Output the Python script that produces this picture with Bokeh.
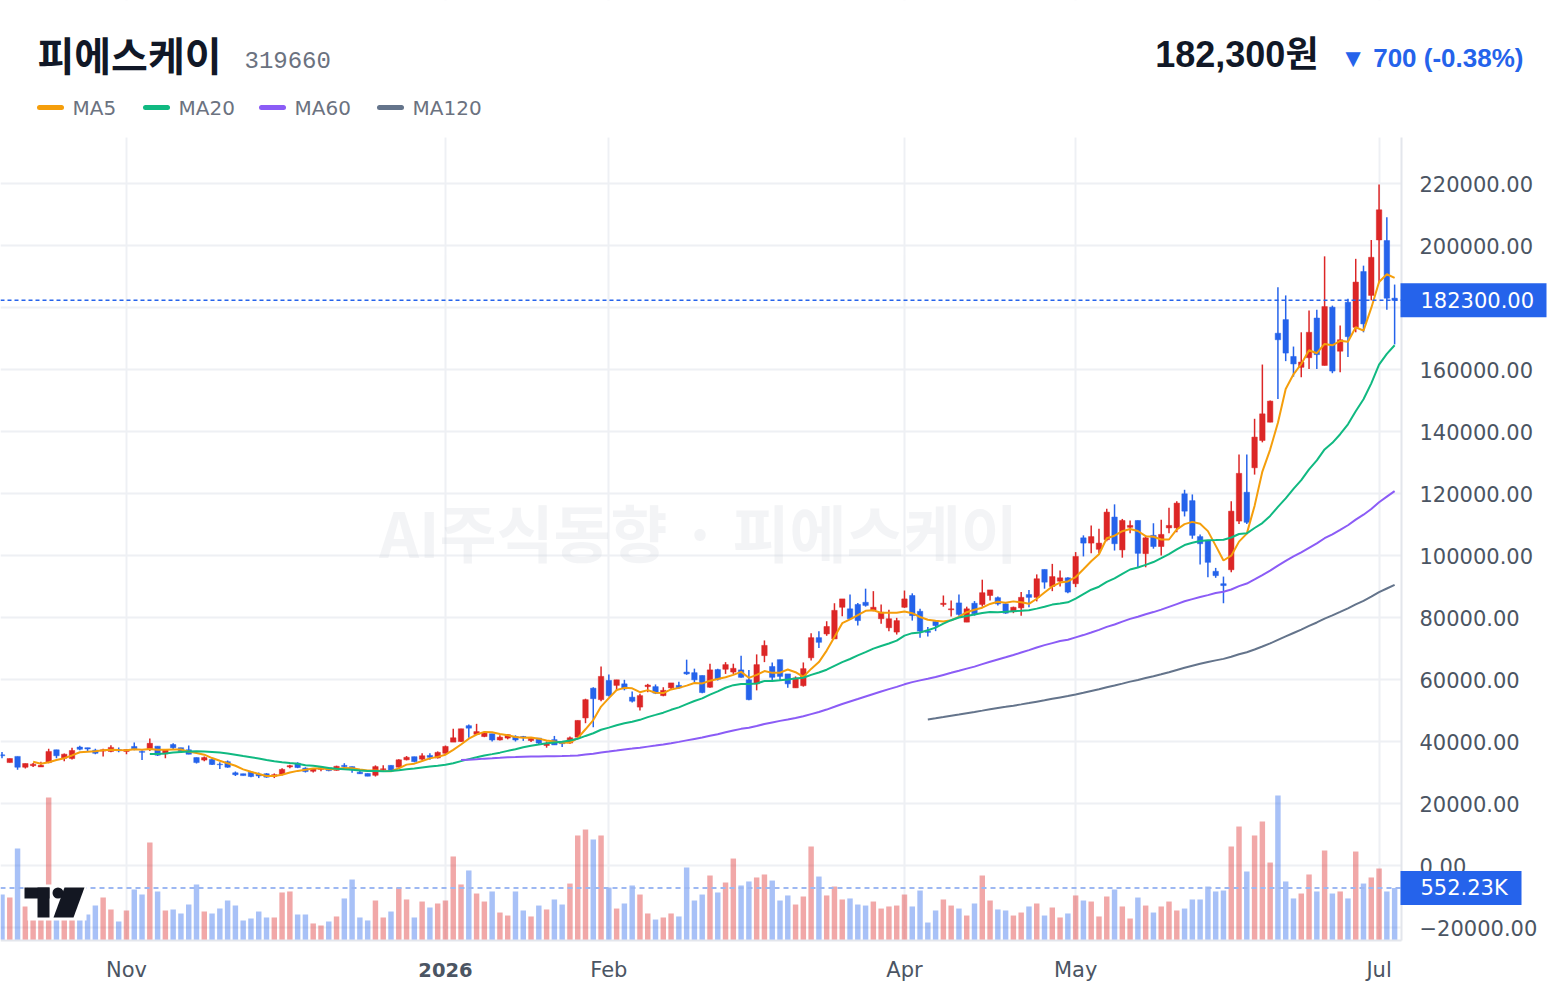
import pandas as pd
from bokeh.plotting import figure
from bokeh.models import Range1d, FixedTicker, ColumnDataSource
from bokeh.embed import file_html
from bokeh.resources import INLINE
from bokeh.core.properties import value

# ---------------- data ----------------
stock_name = "피에스케이"
stock_code = "319660"
opens = [35700, 33200, 35200, 31700, 32200, 31800, 33200, 37300, 34600, 34500,
         38200, 38000, 37200, 36900, 36800, 37400, 36800, 38400, 36800, 37700,
         38500, 36000, 39000, 38000, 37300, 34800, 34000, 34200, 32700, 33500,
         29900, 29600, 30100, 29500, 29600, 28800, 29400, 31800, 33000, 31400,
         30400, 31000, 31500, 30700, 32300, 31900, 30100, 29700, 29100, 30900,
         32300, 31700, 34100, 35100, 34300, 35500, 34700, 36200, 39800, 40000,
         45100, 42300, 41600, 42500, 40500, 41100, 41600, 41600, 40300, 41100,
         38700, 40600, 39600, 39500, 41400, 47600, 57200, 53500, 59700, 58100,
         58600, 54300, 51100, 57700, 57700, 54800, 57300, 58100, 62400, 62200,
         61300, 57500, 63200, 63300, 62400, 63100, 59900, 58600, 67700, 64200,
         66400, 61800, 57300, 58000, 67000, 73500, 74700, 73100, 83300, 82800,
         84200, 84900, 82300, 79600, 76700, 75300, 83300, 87100, 82000, 75600,
         78700, 84200, 82500, 84700, 78500, 84600, 84200, 87100, 86400, 84400,
         82000, 83100, 87400, 86500, 95500, 90000, 91700, 92800, 90900, 105700,
         104000, 102000, 105100, 112400, 101800, 109100, 111300, 100600, 106500, 102900,
         108900, 108900, 119900, 117700, 106100, 104800, 94900, 90900, 95400, 111100,
         120400, 128300, 137100, 143000, 171700, 176100, 164200, 160700, 163800, 176600,
         161300, 180100, 165900, 181700, 173600, 191600, 183900, 201800, 201600, 183000]
highs = [36600, 34500, 35200, 32900, 33100, 33500, 37700, 37300, 36100, 38000,
         38600, 38000, 37700, 37700, 38800, 38100, 37400, 39700, 37200, 41000,
         38500, 37400, 39400, 38000, 38700, 34800, 35200, 34400, 33300, 33900,
         30300, 29600, 30300, 30000, 29800, 29700, 31400, 32500, 33300, 31700,
         31400, 32000, 31700, 32200, 33000, 31900, 30500, 29700, 32300, 32300,
         32300, 34300, 35300, 35100, 36200, 36200, 36800, 38700, 44100, 44100,
         45500, 45700, 43200, 42500, 42000, 42400, 42000, 41800, 41400, 41100,
         40000, 41800, 40000, 41600, 46800, 53800, 57500, 64200, 61600, 59900,
         59900, 56100, 55400, 58600, 58400, 57500, 58900, 59300, 66400, 63500,
         61300, 65100, 63500, 65600, 65100, 67700, 63100, 68100, 72600, 65500,
         66400, 61800, 61000, 65500, 74900, 75600, 78800, 84600, 86000, 87400,
         84700, 89300, 88500, 84200, 82500, 79900, 88700, 87800, 82800, 76900,
         79000, 87100, 85500, 87400, 83500, 85300, 92200, 88900, 86800, 84600,
         83500, 88200, 88900, 93900, 95500, 97300, 95200, 93000, 101100, 106500,
         109700, 108600, 115100, 116500, 111800, 111300, 111300, 106500, 110400, 111500,
         115400, 117500, 121200, 119700, 106800, 104800, 96000, 93200, 117500, 132600,
         132600, 144100, 161600, 150000, 186500, 183900, 167400, 172000, 179000, 179300,
         196500, 180600, 174200, 182800, 195700, 193500, 201800, 219700, 209100, 187400]
lows = [34600, 33200, 30900, 31300, 31800, 31800, 33000, 34600, 33600, 34200,
        37200, 36900, 35900, 35200, 36500, 36500, 35900, 37200, 34000, 36900,
        35300, 34600, 37300, 36500, 35900, 32900, 33600, 32400, 31100, 31500,
        28900, 29000, 28500, 28200, 28300, 28200, 29000, 31400, 31400, 30000,
        30000, 30400, 30400, 30600, 31300, 29900, 29500, 28800, 28700, 30400,
        30600, 31600, 33900, 33300, 33900, 34100, 34500, 36000, 39800, 39800,
        41200, 42200, 41400, 40000, 40300, 40700, 40000, 40200, 39800, 39100,
        38000, 38900, 38200, 39300, 41200, 45900, 44600, 53000, 54500, 56500,
        56500, 52600, 50000, 55900, 55300, 54600, 56800, 57000, 61500, 59100,
        55600, 57300, 59700, 61800, 61800, 60600, 53300, 56500, 65600, 59300,
        59500, 57300, 57300, 57700, 66100, 70200, 74100, 73100, 80400, 79300,
        77400, 83500, 82000, 78000, 75600, 74500, 83100, 79000, 73500, 73900,
        75600, 83500, 80300, 80600, 78500, 80600, 83500, 85500, 83900, 81200,
        81400, 80600, 83300, 85200, 89300, 88500, 90000, 87800, 89800, 99700,
        100700, 100700, 104600, 101600, 99300, 107200, 96200, 96200, 102200, 100000,
        107200, 107500, 112600, 105400, 97100, 93000, 92800, 84600, 94600, 110200,
        110200, 126100, 136500, 143000, 150500, 162700, 157700, 157500, 160200, 160200,
        161300, 158800, 159100, 164000, 172000, 172000, 182300, 187800, 179300, 168100]
closes = [35400, 34500, 31700, 32900, 32700, 32300, 36800, 35400, 35900, 37100,
          37500, 37600, 36200, 37300, 38100, 37000, 37400, 37700, 36500, 39400,
          35600, 37400, 38000, 36800, 35900, 33200, 34800, 32600, 32500, 31700,
          29300, 29000, 28700, 28900, 28500, 29300, 31000, 32200, 31600, 30300,
          31200, 31500, 30600, 32000, 31900, 30900, 29600, 28800, 31900, 31200,
          30600, 34100, 34900, 33500, 35400, 34900, 36500, 38400, 41200, 44100,
          44300, 43200, 42700, 40500, 41400, 42200, 40500, 41400, 41000, 39500,
          39300, 38900, 39300, 41200, 46800, 53500, 53800, 61000, 54800, 59900,
          57000, 53000, 54800, 58200, 55600, 56500, 58900, 57300, 61800, 59900,
          55800, 63100, 60100, 64800, 63600, 60700, 53500, 64800, 71000, 60700,
          61000, 58600, 60500, 63500, 73500, 72000, 77100, 82300, 86000, 79600,
          79000, 83900, 83300, 81700, 79600, 79000, 86000, 80600, 75600, 75200,
          77400, 84600, 82800, 81000, 82800, 81200, 88000, 88900, 84400, 81400,
          83300, 86500, 86500, 92500, 91400, 93200, 92800, 88200, 99700, 104000,
          106100, 104000, 114000, 103800, 111300, 109700, 100700, 105700, 102900, 106800,
          109700, 116900, 114300, 106500, 103800, 97800, 93500, 90300, 114300, 126500,
          110700, 138200, 145700, 149800, 169600, 165300, 161800, 162400, 172000, 164800,
          180300, 159500, 169600, 170600, 188200, 174700, 196200, 211500, 183000, 182300]
volume_k = [482, 450, 975, 354, 247, 300, 1522, 320, 280, 330,
            375, 268, 364, 450, 322, 193, 311, 536, 482, 1040,
            515, 311, 322, 279, 375, 590, 300, 279, 332, 418,
            364, 204, 225, 300, 236, 236, 504, 515, 268, 268,
            172, 150, 193, 247, 440, 643, 236, 204, 418, 236,
            300, 557, 429, 236, 407, 343, 386, 418, 890, 590,
            740, 493, 407, 515, 289, 257, 515, 311, 247, 364,
            322, 429, 375, 600, 1115, 1179, 1072, 1115, 557, 332,
            386, 579, 482, 279, 214, 236, 279, 247, 772, 418,
            482, 686, 504, 611, 868, 579, 622, 665, 697, 632,
            418, 472, 375, 461, 997, 675, 472, 568, 429, 440,
            375, 364, 407, 332, 354, 364, 482, 354, 525, 182,
            311, 429, 364, 332, 257, 386, 686, 418, 322, 311,
            257, 289, 354, 386, 257, 343, 236, 279, 472, 418,
            407, 247, 461, 536, 354, 225, 450, 364, 289, 354,
            407, 311, 332, 429, 429, 568, 515, 525, 997, 1211,
            729, 1115, 1265, 825, 1544, 622, 440, 493, 697, 515,
            954, 493, 515, 440, 943, 600, 665, 761, 515, 552.23]
tick_index = [16, 57, 78, 116, 138, 177]
tick_labels = ["Nov", "2026", "Feb", "Apr", "May", "Jul"]
price_ticks = list(range(-20000, 220001, 20000))
ma_names = ["MA5", "MA20", "MA60", "MA120"]
ma_windows = [5, 20, 60, 120]
prev_close = 183000

# ---------------- style / layout constants ----------------
W, H = 1560, 996
PLOT_R, PLOT_T, PLOT_B = 1401, 137, 940
UP, DOWN = "#dc2626", "#2563eb"
MA_COLORS = ["#f59e0b", "#10b981", "#8b5cf6", "#64748b"]
GRID = "#eef0f4"
BORDER = "#e3e6ec"
AXIS_FONT = "DejaVu Sans"
AXIS_COLOR = "#4b5563"
X0_PX, BAR_PX = 1.5, 7.78            # pixel of bar 0, pixels per bar
ZERO_PY, PX_PER_WON = 865.0, 3.1 / 1000.0
VOL_ZERO_PY, VOL_PER_PX = 939.0, 10720.0


def px_to_x(px):
    return (px - X0_PX) / BAR_PX


def py_to_y(py):
    return (ZERO_PY - py) / PX_PER_WON


def y_to_py(y):
    return ZERO_PY - y * PX_PER_WON


def vol_to_py(v):
    return VOL_ZERO_PY - v / VOL_PER_PX


def py_to_vol(py):
    return (VOL_ZERO_PY - py) * VOL_PER_PX


n = len(closes)
idx = list(range(n))
volumes = [v * 1000 for v in volume_k]
colors = [UP if c >= o else DOWN for o, c in zip(opens, closes)]
last_close = closes[-1]
chg = last_close - prev_close
pct = chg / prev_close * 100

src = ColumnDataSource(dict(
    x=idx, o=opens, h=highs, l=lows, c=closes,
    top=[max(o, c) for o, c in zip(opens, closes)],
    bot=[min(o, c) for o, c in zip(opens, closes)],
    vol=volumes, color=colors))

p = figure(width=W, height=H,
           x_range=Range1d(px_to_x(0), px_to_x(W)),
           y_range=Range1d(py_to_y(H), py_to_y(0)),
           output_backend="svg", toolbar_location=None, y_axis_location="right",
           min_border=0)
p.outline_line_color = None
p.background_fill_color = "white"
p.border_fill_color = "white"
p.extra_y_ranges = {"vol": Range1d(py_to_vol(H), py_to_vol(0))}

# grid
p.xgrid.ticker = FixedTicker(ticks=tick_index)
p.ygrid.ticker = FixedTicker(ticks=price_ticks)
p.grid.grid_line_color = GRID
p.grid.grid_line_width = 2

# axes (labels drawn inward, over the white margins)
for ax in (p.xaxis, p.yaxis):
    ax.axis_line_color = None
    ax.major_tick_line_color = None
    ax.minor_tick_line_color = None
    ax.major_label_text_font = AXIS_FONT
    ax.major_label_text_font_size = "21px"
    ax.major_label_text_color = AXIS_COLOR
p.yaxis.major_label_standoff = 1413 - W
p.xaxis.major_label_standoff = 951 - H
p.xaxis.ticker = FixedTicker(ticks=tick_index)
p.xaxis.major_label_overrides = {t: ("" if lab.isdigit() else lab)
                                 for t, lab in zip(tick_index, tick_labels)}
p.yaxis.ticker = FixedTicker(ticks=price_ticks)
p.yaxis.major_label_overrides = {t: f"{t:.2f}".replace("-", "\u2212") for t in price_ticks}

# white margins around the plotting area (hide grid there)
p.quad(left=[px_to_x(0), px_to_x(PLOT_R), px_to_x(0)],
       right=[px_to_x(W), px_to_x(W), px_to_x(W)],
       top=[py_to_y(0), py_to_y(PLOT_T), py_to_y(PLOT_B)],
       bottom=[py_to_y(PLOT_T), py_to_y(PLOT_B), py_to_y(H)],
       fill_color="white", line_color=None)
# plot borders
p.segment(x0=[px_to_x(PLOT_R), px_to_x(0)], y0=[py_to_y(PLOT_T), py_to_y(PLOT_B)],
          x1=[px_to_x(PLOT_R), px_to_x(PLOT_R)], y1=[py_to_y(PLOT_B), py_to_y(PLOT_B)],
          line_color=BORDER, line_width=2)

# watermark
p.text(x=[px_to_x(698)], y=[py_to_y(530)], text=["AI주식동향 · " + stock_name],
       text_font=value("Noto Sans CJK KR"), text_font_size="62px", text_font_style="bold",
       text_color="#d1d5db", text_alpha=0.25, text_align="center", text_baseline="middle")

# volume
p.vbar(x="x", top="vol", bottom=0, width=0.7, source=src, y_range_name="vol",
       fill_color="color", fill_alpha=0.4, line_color=None)

# candles
p.segment(x0="x", y0="l", x1="x", y1="h", source=src, line_color="color", line_width=1.5)
p.vbar(x="x", top="top", bottom="bot", width=0.7, source=src,
       fill_color="color", line_color="color", line_width=0.5)

# moving averages
close_s = pd.Series(closes, dtype=float)
for name, win, col in zip(ma_names, ma_windows, MA_COLORS):
    ma = close_s.rolling(win).mean()
    p.line(x=idx[win - 1:], y=list(ma[win - 1:]), line_color=col, line_width=2)

# last value lines
p.segment(x0=[px_to_x(0)], x1=[px_to_x(PLOT_R)], y0=[last_close], y1=[last_close],
          line_color=DOWN, line_dash="4 3", line_width=1.5)
p.segment(x0=[px_to_x(0)], x1=[px_to_x(PLOT_R)], y0=[volumes[-1]], y1=[volumes[-1]],
          y_range_name="vol", line_color="#9db8f2", line_dash="5 4", line_width=2)

# TradingView logo
p.quad(left=[px_to_x(27)], right=[px_to_x(86)], top=[py_to_y(884)], bottom=[py_to_y(920)],
       fill_color="white", line_color=None)
p.quad(left=[px_to_x(24), px_to_x(37)], right=[px_to_x(49), px_to_x(49)],
       top=[py_to_y(887), py_to_y(887)], bottom=[py_to_y(898), py_to_y(917)],
       fill_color="#131722", line_color=None)
p.scatter(x=[px_to_x(57.5)], y=[py_to_y(892.5)], size=11, marker="circle",
          fill_color="#131722", line_color=None)
p.patch(x=[px_to_x(64), px_to_x(84), px_to_x(73), px_to_x(53)],
        y=[py_to_y(887), py_to_y(887), py_to_y(917), py_to_y(917)],
        fill_color="#131722", line_color=None)


# ---------------- header ----------------
def htext(px, py, txt, font, size, color, bold=False, align="left"):
    p.text(x=[px_to_x(px)], y=[py_to_y(py)], text=[txt], text_font=value(font),
           text_font_size=size, text_font_style="bold" if bold else "normal",
           text_color=color, text_baseline="middle", text_align=align)


htext(37, 53, stock_name, "Noto Sans CJK KR", "40px", "#111827", bold=True)
htext(244, 59, stock_code, "Liberation Mono", "24px", "#6b7280")
htext(1318, 54, f"{last_close:,}원", "Liberation Sans, Noto Sans CJK KR", "36px",
      "#111827", bold=True, align="right")
arrow = "▼" if chg < 0 else "▲"
htext(1523, 57, f"{arrow} {abs(chg):,} ({pct:.2f}%)", "Liberation Sans", "26px",
      DOWN if chg < 0 else UP, bold=True, align="right")
leg_x = [37, 143, 259, 377]
for lx, name, col in zip(leg_x, ma_names, MA_COLORS):
    p.segment(x0=[px_to_x(lx + 2)], y0=[py_to_y(107)], x1=[px_to_x(lx + 24)],
              y1=[py_to_y(107)], line_color=col, line_width=5, line_cap="round")
    htext(lx + 35, 107, name, AXIS_FONT, "20px", "#6b7280")

# bold year label on the time axis
for t, lab in zip(tick_index, tick_labels):
    if lab.isdigit():
        p.text(x=[t], y=[py_to_y(969)], text=[lab], text_font=value(AXIS_FONT),
               text_font_size="19.5px", text_font_style="bold", text_color=AXIS_COLOR,
               text_align="center", text_baseline="middle")

# ---------------- last value tags (drawn above the axis labels) ----------------
TAG_L, TAG_TEXT_L, TAG_HALF = 1400, 1420, 17
price_py = y_to_py(last_close)
vol_py = vol_to_py(volumes[-1])
p.quad(left=[px_to_x(TAG_L)], right=[px_to_x(1546)],
       top=[py_to_y(price_py - TAG_HALF)], bottom=[py_to_y(price_py + TAG_HALF)],
       fill_color=DOWN, line_color=None, level="overlay")
p.quad(left=[px_to_x(TAG_L)], right=[px_to_x(1521)],
       top=[py_to_vol(vol_py - TAG_HALF)], bottom=[py_to_vol(vol_py + TAG_HALF)],
       y_range_name="vol", fill_color=DOWN, line_color=None, level="overlay")
p.text(x=[px_to_x(TAG_TEXT_L)], y=[last_close], text=[f"{last_close:.2f}"],
       text_font=value(AXIS_FONT), text_font_size="21px", text_color="white",
       text_baseline="middle", text_align="left", level="overlay")
p.text(x=[px_to_x(TAG_TEXT_L)], y=[volumes[-1]], text=[f"{volumes[-1] / 1000:.2f}K"],
       y_range_name="vol", text_font=value(AXIS_FONT), text_font_size="21px",
       text_color="white", text_baseline="middle", text_align="left", level="overlay")

open("out.html", "w").write(file_html(p, INLINE))
